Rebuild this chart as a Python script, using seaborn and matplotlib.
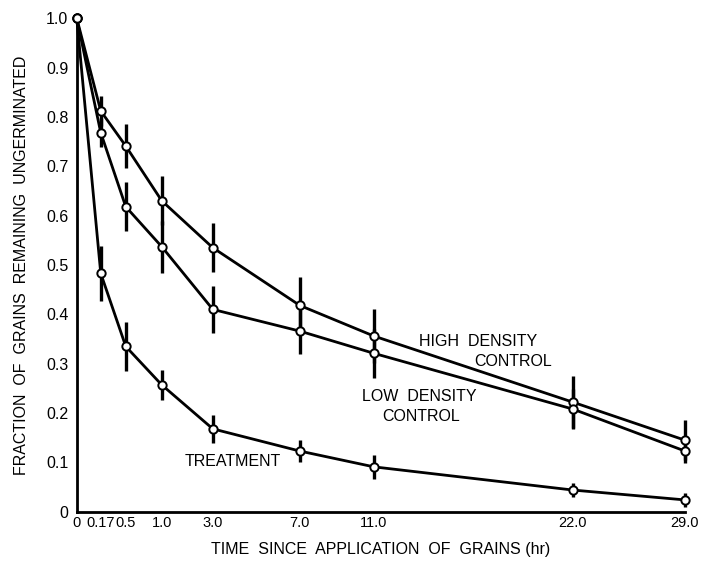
import numpy as np
import pandas as pd
import matplotlib
matplotlib.use('Agg')
import matplotlib.pyplot as plt
import seaborn as sns

# Data
time_hr = [0, 0.17, 0.5, 1.0, 3.0, 7.0, 11.0, 22.0, 29.0]
tick_labels = ['0', '0.17', '0.5', '1.0', '3.0', '7.0', '11.0', '22.0', '29.0']

high_density = [1.0, 0.812, 0.741, 0.630, 0.535, 0.418, 0.356, 0.222, 0.145]
high_err = [0, 0.03, 0.045, 0.05, 0.05, 0.058, 0.054, 0.053, 0.04]

low_density = [1.0, 0.768, 0.618, 0.537, 0.410, 0.366, 0.321, 0.208, 0.123]
low_err = [0, 0.03, 0.05, 0.053, 0.047, 0.046, 0.05, 0.04, 0.025]

treatment = [1.0, 0.483, 0.335, 0.257, 0.168, 0.123, 0.091, 0.044, 0.024]
treat_err = [0, 0.055, 0.05, 0.03, 0.028, 0.022, 0.025, 0.014, 0.014]

# Axis spacing in the original is stretched at the start (pixel offsets of the ticks)
tick_pos = [0, 24, 49, 85, 136, 223, 297, 496, 608]


def fwd(t):
    return np.interp(t, time_hr, tick_pos)


def inv(p):
    return np.interp(p, tick_pos, time_hr)


df = pd.DataFrame({
    'time': time_hr * 3,
    'fraction': high_density + low_density + treatment,
    'series': ['High density control'] * 9 + ['Low density control'] * 9 + ['Treatment'] * 9,
})

sns.set_style('white')
plt.rcParams['font.family'] = ['Liberation Sans', 'DejaVu Sans']
plt.rcParams['text.color'] = 'black'
plt.rcParams['axes.labelcolor'] = 'black'
plt.rcParams['xtick.color'] = 'black'
plt.rcParams['ytick.color'] = 'black'

fig = plt.figure(figsize=(7.04, 5.68), dpi=100)
ax = fig.add_axes([0.109, 0.099, 0.864, 0.869])
ax.set_xscale('function', functions=(fwd, inv))

# error bars
for vals, errs in [(high_density, high_err), (low_density, low_err), (treatment, treat_err)]:
    ax.errorbar(time_hr, vals, yerr=errs, fmt='none', ecolor='black',
                elinewidth=2.4, capsize=0, zorder=2, clip_on=False)

sns.lineplot(data=df, x='time', y='fraction', hue='series',
             palette=['black'] * 3, marker='o', markersize=6,
             markerfacecolor='white', markeredgecolor='black', markeredgewidth=1.4,
             linewidth=2, legend=False, ax=ax, zorder=3, clip_on=False, sort=False)

ax.set_xlim(0, 29)
ax.set_ylim(0, 1.0)
ax.set_xticks(time_hr)
ax.set_xticklabels(tick_labels)
ax.set_yticks(np.arange(0, 1.01, 0.1))
ax.set_yticklabels(['0'] + ['%.1f' % v for v in np.arange(0.1, 1.01, 0.1)])
ax.tick_params(axis='x', direction='in', length=5, width=1.2, labelsize=10.5, pad=3)
ax.tick_params(axis='y', direction='out', length=3, width=1.2, labelsize=11.5, pad=3)

for side in ['top', 'right']:
    ax.spines[side].set_visible(False)
for side in ['left', 'bottom']:
    ax.spines[side].set_linewidth(2)
    ax.spines[side].set_color('black')

ax.set_xlabel('TIME  SINCE  APPLICATION  OF  GRAINS (hr)', fontsize=11.5, labelpad=9)
ax.set_ylabel('FRACTION  OF  GRAINS  REMAINING  UNGERMINATED', fontsize=11.5, labelpad=12)

# curve labels
ax.text(16.75, 0.344, 'HIGH  DENSITY', fontsize=11.5, ha='center', va='center')
ax.text(18.7, 0.304, 'CONTROL', fontsize=11.5, ha='center', va='center')
ax.text(13.5, 0.233, 'LOW  DENSITY', fontsize=11.5, ha='center', va='center')
ax.text(13.6, 0.192, 'CONTROL', fontsize=11.5, ha='center', va='center')
ax.text(3.9, 0.101, 'TREATMENT', fontsize=11.5, ha='center', va='center')

plt.savefig('out.png', dpi=100)
